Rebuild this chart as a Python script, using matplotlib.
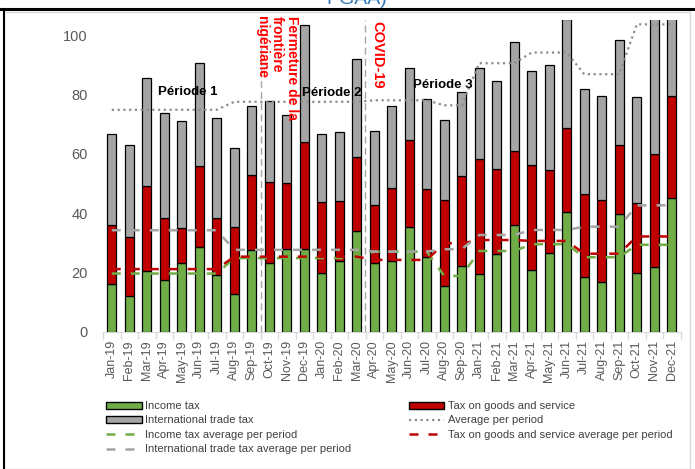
import numpy as np
import matplotlib
matplotlib.use("Agg")
import matplotlib.pyplot as plt
from matplotlib.patches import Patch, Rectangle
from matplotlib.lines import Line2D

months = ["Jan-19", "Feb-19", "Mar-19", "Apr-19", "May-19", "Jun-19", "Jul-19",
          "Aug-19", "Sep-19", "Oct-19", "Nov-19", "Dec-19", "Jan-20", "Feb-20",
          "Mar-20", "Apr-20", "May-20", "Jun-20", "Jul-20", "Aug-20", "Sep-20",
          "Jan-21", "Feb-21", "Mar-21", "Apr-21", "May-21", "Jun-21", "Jul-21",
          "Aug-21", "Sep-21", "Oct-21", "Nov-21", "Dec-21"]

income_tax = [16.2, 11.9, 20.4, 17.3, 23.0, 28.5, 19.0,
              12.8, 27.4, 23.0, 28.0, 28.0, 19.7, 23.8,
              33.8, 23.0, 24.0, 35.2, 25.2, 15.3, 22.0,
              19.3, 26.2, 35.8, 20.8, 26.6, 40.4, 18.4,
              16.9, 39.6, 19.9, 21.8, 45.2]
goods_tax = [19.6, 19.9, 28.7, 20.9, 12.1, 27.5, 19.3,
             22.4, 25.4, 27.6, 22.0, 35.9, 24.0, 20.2,
             25.1, 19.7, 24.3, 29.3, 22.8, 29.0, 30.5,
             38.8, 28.5, 25.1, 35.4, 27.9, 28.1, 27.9,
             27.4, 23.5, 23.6, 38.1, 34.1]
trade_tax = [30.9, 31.1, 36.5, 35.4, 35.8, 34.7, 33.9,
             26.7, 23.4, 27.0, 23.0, 39.6, 23.0, 23.2,
             33.1, 25.1, 27.9, 24.3, 30.5, 27.2, 28.4,
             30.7, 29.7, 36.9, 31.7, 35.3, 37.0, 35.4,
             35.0, 35.2, 35.5, 52.1, 40.7]

avg_total = [74.8, 74.8, 74.8, 74.8, 74.8, 74.8, 74.8,
             77.5, 77.5, 77.5, 77.5, 77.5, 77.5, 77.5,
             77.5, 78.0, 78.0, 78.0, 78.0, 76.3, 76.3,
             90.5, 90.5, 90.5, 94.1, 94.1, 94.1, 86.8,
             86.8, 86.8, 103.6, 103.6, 103.6]
avg_income = [19.6, 19.6, 19.6, 19.6, 19.6, 19.6, 19.6,
              24.8, 24.8, 24.8, 24.8, 24.8, 24.8, 24.8,
              24.8, 27.0, 27.0, 27.0, 27.0, 18.8, 18.8,
              27.2, 27.2, 27.2, 29.5, 29.5, 29.5, 25.1,
              25.1, 25.1, 29.3, 29.3, 29.3]
avg_goods = [21.1, 21.1, 21.1, 21.1, 21.1, 21.1, 21.1,
             25.3, 25.3, 25.3, 25.3, 25.3, 25.3, 25.3,
             25.3, 24.2, 24.2, 24.2, 24.2, 29.8, 29.8,
             30.9, 30.9, 30.9, 30.6, 30.6, 30.6, 26.3,
             26.3, 26.3, 32.1, 32.1, 32.1]
avg_trade = [34.2, 34.2, 34.2, 34.2, 34.2, 34.2, 34.2,
             27.6, 27.6, 27.6, 27.6, 27.6, 27.6, 27.6,
             27.6, 27.0, 27.0, 27.0, 27.0, 27.8, 27.8,
             32.6, 32.6, 32.6, 34.3, 34.3, 34.3, 35.4,
             35.4, 35.4, 42.6, 42.6, 42.6]

GREEN = "#70AD47"
RED = "#C00000"
GREY = "#A5A5A5"
DOT = "#8C8C8C"
TXT = "#595959"

plt.rcParams["font.family"] = ["Liberation Sans Narrow", "Liberation Sans", "DejaVu Sans"]

fig = plt.figure(figsize=(6.95, 4.69), dpi=100)
ax = fig.add_axes([103 / 695, 1 - 331.7 / 469, 577.5 / 695, 311.5 / 469])

x = np.arange(len(months))
inc = np.array(income_tax)
gds = np.array(goods_tax)
trd = np.array(trade_tax)
w = 0.5
ax.bar(x, inc, w, color=GREEN, edgecolor="black", linewidth=0.9, zorder=2)
ax.bar(x, gds, w, bottom=inc, color=RED, edgecolor="black", linewidth=0.9, zorder=2)
ax.bar(x, trd, w, bottom=inc + gds, color=GREY, edgecolor="black", linewidth=0.9, zorder=2)

dash = (3.6, 4.0)
ax.plot(x, avg_total, color=DOT, lw=1.6, linestyle=(0, (1, 1.6)), zorder=3)
ax.plot(x, avg_income, color=GREEN, lw=1.8, linestyle=(0, dash), zorder=3)
ax.plot(x, avg_goods, color=RED, lw=1.8, linestyle=(0, dash), zorder=3)
ax.plot(x, avg_trade, color=GREY, lw=1.8, linestyle=(0, dash), zorder=3)

# event markers
for xv in (8.5, 14.47):
    ax.axvline(xv, color="#A6A6A6", lw=1.0, linestyle=(0, (5, 3)), zorder=1)

ax.text(9.45, 1.012, "Fermeture de la\nfrontière\nnigériane", transform=ax.get_xaxis_transform(),
        rotation=-90, ha="center", va="top", multialignment="left", color="red",
        fontsize=10, fontweight="bold", family=["Liberation Sans", "DejaVu Sans"],
        linespacing=1.1, clip_on=False, zorder=4)
ax.text(15.2, 0.998, "COVID-19", transform=ax.get_xaxis_transform(),
        rotation=-90, ha="center", va="top", color="red",
        fontsize=10.5, fontweight="bold", family=["Liberation Sans", "DejaVu Sans"],
        clip_on=False, zorder=4)

for label, xv, yv in (("Période 1", 4.33, 80.9), ("Période 2", 12.6, 80.3), ("Période 3", 18.9, 83.1)):
    ax.text(xv, yv, label, ha="center", va="center", fontsize=9.5, fontweight="bold",
            color="black", zorder=5)

ax.set_xlim(-0.5, len(months) - 0.5)
ax.set_ylim(0, 105)
ax.set_yticks([0, 20, 40, 60, 80, 100])
ax.tick_params(axis="y", length=0, pad=11, labelsize=10.5, labelcolor=TXT)
ax.set_xticks(x)
ax.set_xticklabels(months, rotation=90, fontsize=9, color=TXT)
ax.set_xticks(np.arange(len(months) + 1) - 0.5, minor=True)
ax.tick_params(axis="x", which="major", length=0, pad=6)
ax.tick_params(axis="x", which="minor", length=5, color="#D9D9D9", width=1)
for s in ("top", "right", "left"):
    ax.spines[s].set_visible(False)
ax.spines["bottom"].set_color("#D9D9D9")

handles = [
    Patch(facecolor=GREEN, edgecolor="black", linewidth=1.0),
    Patch(facecolor=GREY, edgecolor="black", linewidth=1.0),
    Line2D([], [], color=GREEN, lw=1.8, linestyle=(0, dash)),
    Line2D([], [], color=GREY, lw=1.8, linestyle=(0, dash)),
    Patch(facecolor=RED, edgecolor="black", linewidth=1.0),
    Line2D([], [], color=DOT, lw=1.6, linestyle=(0, (1, 1.6))),
    Line2D([], [], color=RED, lw=1.8, linestyle=(0, dash)),
]
labels = ["Income tax", "International trade tax", "Income tax average per period",
          "International trade tax average per period", "Tax on goods and service",
          "Average per period", "Tax on goods and service average per period"]
leg = fig.legend(handles, labels, ncol=2, loc="upper left", bbox_to_anchor=(106 / 695, 1 - 401 / 469),
                 frameon=False, fontsize=8, handlelength=3.2, handleheight=0.6,
                 labelspacing=0.4, columnspacing=5.2, handletextpad=0.3,
                 borderpad=0, borderaxespad=0)
for t in leg.get_texts():
    t.set_color("#404040")

# outer frame
fig.patches.append(Rectangle((4 / 695, 0), 686 / 695, 1 - 12 / 469, transform=fig.transFigure,
                             fill=False, edgecolor="#D9D9D9", lw=1))
fig.add_artist(Line2D([0, 1], [1 - 9 / 469] * 2, color="black", lw=2.2, transform=fig.transFigure))
fig.add_artist(Line2D([4 / 695] * 2, [0, 1 - 9 / 469], color="black", lw=1.5, transform=fig.transFigure))
fig.text(0.47, 1.0, "PGAA)", ha="left", va="center", color="#2E75B6", fontsize=14)

fig.savefig("out.png", dpi=100)
